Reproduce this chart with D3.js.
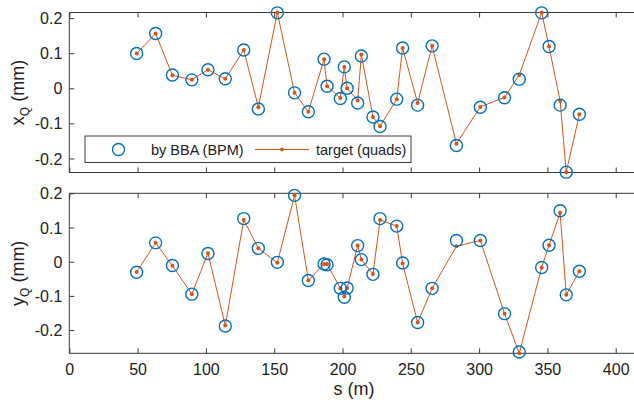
<!DOCTYPE html>
<html>
<head>
<meta charset="utf-8">
<script src="https://cdn.jsdelivr.net/npm/d3@7"></script>
<style>
  html, body { margin: 0; padding: 0; background: #fff; }
  svg { display: block; font-family: "Liberation Sans", Arial, Helvetica, sans-serif; }
</style>
</head>
<body>
<svg id="chart" width="634" height="403"></svg>
<script>
'use strict';

// quad positions along the line (m)
const s = [49.3, 63.2, 75.5, 89.7, 101.5, 114.2, 127.7, 138.4, 152.3, 164.9,
           175.0, 186.5, 188.7, 198.4, 201.3, 203.4, 211.1, 213.8, 222.3, 227.5,
           239.7, 244.0, 255.0, 265.6, 283.4, 300.9, 318.6, 329.4, 345.8, 351.2,
           359.3, 363.8, 373.4];

// horizontal offsets (mm)
const xBBA = [0.099, 0.156, 0.038, 0.024, 0.053, 0.027, 0.109, -0.059, 0.215, -0.013,
              -0.067, 0.083, 0.006, -0.029, 0.061, 0.000, -0.042, 0.092, -0.082, -0.109,
              -0.031, 0.115, -0.048, 0.121, -0.163, -0.054, -0.027, 0.026, 0.215, 0.119,
              -0.048, -0.239, -0.074];
const xTarget = [0.099, 0.156, 0.037, 0.024, 0.053, 0.027, 0.109, -0.054, 0.216, -0.013,
                 -0.067, 0.083, 0.006, -0.028, 0.061, 0.000, -0.035, 0.096, -0.082, -0.108,
                 -0.031, 0.115, -0.042, 0.121, -0.158, -0.053, -0.026, 0.038, 0.216, 0.119,
                 -0.036, -0.239, -0.074];

// vertical offsets (mm)
const yBBA = [-0.031, 0.055, -0.011, -0.095, 0.024, -0.188, 0.126, 0.039, -0.002, 0.194,
              -0.055, -0.007, -0.009, -0.078, -0.104, -0.077, 0.047, 0.006, -0.037, 0.126,
              0.104, -0.004, -0.178, -0.078, 0.062, 0.062, -0.152, -0.264, -0.017, 0.048,
              0.149, -0.097, -0.028];
const yTarget = [-0.030, 0.055, -0.012, -0.095, 0.025, -0.187, 0.122, 0.039, -0.003, 0.194,
                 -0.055, -0.007, -0.007, -0.078, -0.102, -0.077, 0.047, 0.006, -0.036, 0.122,
                 0.104, -0.005, -0.178, -0.078, 0.045, 0.062, -0.152, -0.268, -0.017, 0.048,
                 0.143, -0.097, -0.028];

const sTicks = [0, 50, 100, 150, 200, 250, 300, 350, 400];
const offTicks = [-0.2, -0.1, 0, 0.1, 0.2];
const legendLabels = ['by BBA (BPM)', 'target (quads)'];

const BLUE = '#0072bd', ORANGE = '#d95319', AXIS = '#3a3a3a';

const svg = d3.select('#chart');
const W = 634;
const left = 69.3;

const x = d3.scaleLinear().domain([0, 420]).range([left, left + 420 * 1.366]);

const panels = [
  { bba: xBBA, target: xTarget, domain: [-0.24, 0.216], top: 12.5, bottom: 172.5, sub: 'x', xlabels: false },
  { bba: yBBA, target: yTarget, domain: [-0.268, 0.2], top: 193.3, bottom: 353.3, sub: 'y', xlabels: true }
];

panels.forEach(function (p, pi) {
  const y = d3.scaleLinear().domain(p.domain).range([p.bottom, p.top]);
  const g = svg.append('g');

  // axes with inward ticks
  const fmt = d => (d < 0 ? '-' : '') + (d === 0 ? '0' : Math.abs(d).toFixed(1));
  const yAx = g.append('g').attr('transform', `translate(${left},0)`)
    .call(d3.axisLeft(y).tickValues(offTicks).tickSize(-5).tickPadding(7).tickFormat(fmt));
  const bAx = g.append('g').attr('transform', `translate(0,${p.bottom})`)
    .call(d3.axisBottom(x).tickValues(sTicks).tickSize(-5).tickPadding(10)
      .tickFormat(p.xlabels ? d3.format('d') : ''));
  const tAx = g.append('g').attr('transform', `translate(0,${p.top})`)
    .call(d3.axisTop(x).tickValues(sTicks).tickSize(-5).tickFormat(''));
  [yAx, bAx, tAx].forEach(a => {
    a.select('.domain').remove();
    a.selectAll('line').attr('stroke', AXIS);
    a.selectAll('text').attr('fill', '#222').style('font-size', '16px')
      .style('font-family', '"Liberation Sans", Arial, Helvetica, sans-serif');
  });
  yAx.selectAll('text').attr('dy', '0.35em');

  // box
  g.append('path')
    .attr('d', `M${W + 10},${p.top}H${left}V${p.bottom}H${W + 10}`)
    .attr('fill', 'none').attr('stroke', AXIS).attr('stroke-width', 1);

  // target line with dots
  const line = d3.line().x((d, i) => x(s[i])).y(d => y(d));
  g.append('path').datum(p.target).attr('d', line)
    .attr('fill', 'none').attr('stroke', ORANGE).attr('stroke-width', 1);
  g.selectAll('circle.dot').data(p.target).enter().append('circle')
    .attr('class', 'dot').attr('cx', (d, i) => x(s[i])).attr('cy', d => y(d))
    .attr('r', 2).attr('fill', ORANGE);

  // BBA circles
  g.selectAll('circle.bba').data(p.bba).enter().append('circle')
    .attr('class', 'bba').attr('cx', (d, i) => x(s[i])).attr('cy', d => y(d))
    .attr('r', 6).attr('fill', 'none').attr('stroke', BLUE).attr('stroke-width', 1.4);

  // y label
  const lab = g.append('text')
    .attr('transform', `translate(24,${(p.top + p.bottom) / 2}) rotate(-90)`)
    .attr('text-anchor', 'middle').attr('fill', '#222').style('font-size', '18px');
  lab.append('tspan').text(p.sub);
  lab.append('tspan').attr('dy', 5).style('font-size', '12px').text('Q');
  lab.append('tspan').attr('dy', -5).text(' (mm)');
});

// x label
svg.append('text').attr('x', 354).attr('y', 395)
  .attr('text-anchor', 'middle').attr('fill', '#222').style('font-size', '18px')
  .text('s (m)');

// legend
const lg = svg.append('g');
lg.append('rect').attr('x', 85).attr('y', 136).attr('width', 326).attr('height', 26.5)
  .attr('fill', '#fff').attr('stroke', AXIS).attr('stroke-width', 1);
lg.append('circle').attr('cx', 118.5).attr('cy', 149.5).attr('r', 6)
  .attr('fill', 'none').attr('stroke', BLUE).attr('stroke-width', 1.4);
lg.append('text').attr('x', 151).attr('y', 155).attr('fill', '#222')
  .style('font-size', '14.5px').text(legendLabels[0]);
lg.append('line').attr('x1', 255).attr('x2', 309).attr('y1', 149.5).attr('y2', 149.5)
  .attr('stroke', ORANGE).attr('stroke-width', 1);
lg.append('circle').attr('cx', 282).attr('cy', 149.5).attr('r', 2).attr('fill', ORANGE);
lg.append('text').attr('x', 316).attr('y', 155).attr('fill', '#222')
  .style('font-size', '14.5px').text(legendLabels[1]);
</script>
</body>
</html>
